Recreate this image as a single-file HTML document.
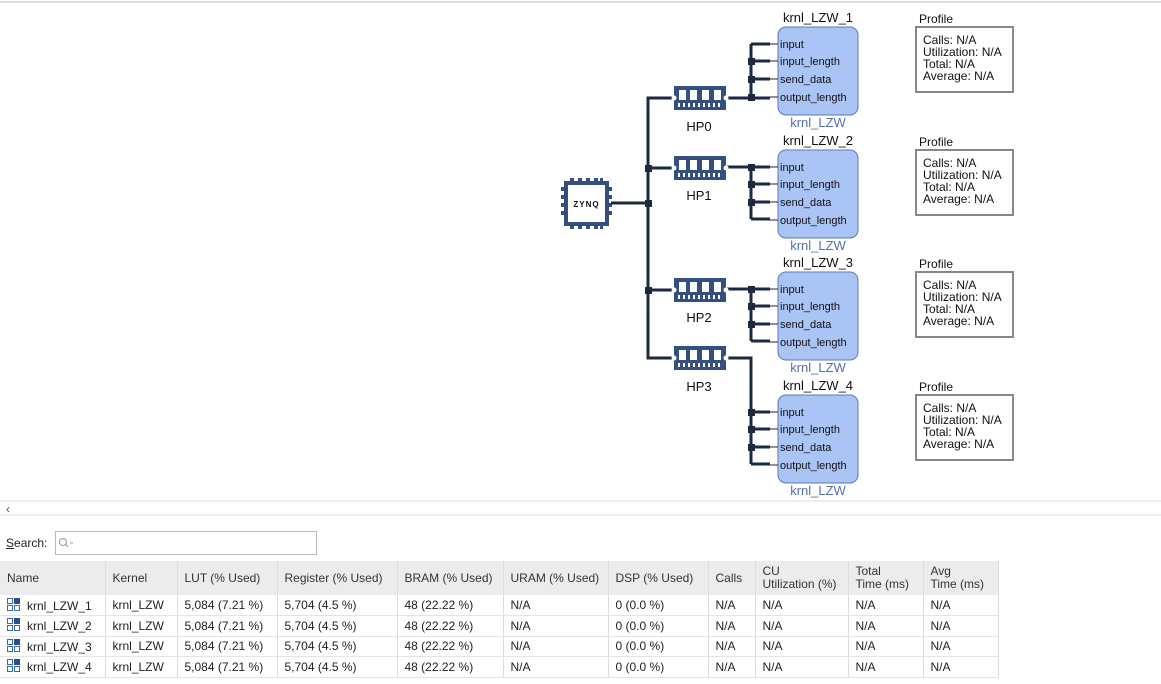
<!DOCTYPE html>
<html><head><meta charset="utf-8"><style>
body{margin:0;width:1161px;height:684px;background:#fff;font-family:"Liberation Sans",sans-serif;overflow:hidden;position:relative}
svg{position:absolute;left:0;top:0}
.t{position:absolute;font-size:12px;color:#222}
table{position:absolute;left:0;top:561px;border-collapse:collapse;font-size:12px;color:#222;table-layout:fixed;width:998px}
td,th{box-sizing:border-box;border-right:1px solid #ddd;padding:0 0 0 7px;text-align:left;font-weight:normal;white-space:nowrap;overflow:hidden}
th{background:#ececec;height:34px;line-height:13px;color:#333}
td{height:20.5px;border-bottom:1px solid #e4e4e4}
.ic{display:inline-block;vertical-align:-2px;margin-right:6px}
</style></head><body>
<svg width="1161" height="684" font-family="Liberation Sans, sans-serif">
<line x1="0" y1="2" x2="1161" y2="2" stroke="#ddd" stroke-width="2"/>
<defs>
<g id="mem">
<rect x="0" y="0" width="52" height="24" fill="#34507e"/>
<rect x="5" y="4" width="7" height="10" fill="#fff"/><rect x="16" y="4" width="7" height="10" fill="#fff"/><rect x="28" y="4" width="7" height="10" fill="#fff"/><rect x="40" y="4" width="7" height="10" fill="#fff"/>
<g fill="#fff"><rect x="4" y="17" width="2" height="4"/><rect x="9" y="17" width="2" height="4"/><rect x="14" y="17" width="2" height="4"/><rect x="19" y="17" width="2" height="4"/><rect x="24" y="17" width="2" height="4"/><rect x="29" y="17" width="2" height="4"/><rect x="34" y="17" width="2" height="4"/><rect x="39" y="17" width="2" height="4"/><rect x="44" y="17" width="2" height="4"/></g>
<circle cx="0" cy="12" r="2.5" fill="#fff"/><circle cx="52" cy="12" r="2.5" fill="#fff"/>
</g>
<g id="kb">
<rect x="0" y="0" width="80" height="88" rx="8" fill="#a9c4f5" stroke="#5a7ab5"/>
<g font-size="11" fill="#111"><text x="2" y="21">input</text><text x="2" y="38">input_length</text><text x="2" y="56">send_data</text><text x="2" y="74">output_length</text></g>
<g stroke="#1b2a40" stroke-width="1"><line x1="-8" y1="17" x2="0" y2="17"/><line x1="-8" y1="34" x2="0" y2="34"/><line x1="-8" y1="52" x2="0" y2="52"/><line x1="-8" y1="70" x2="0" y2="70"/></g>
</g>
<g id="prof">
<text x="3" y="-4" font-size="12" fill="#111">Profile</text>
<rect x="0" y="0" width="97" height="65" fill="#fff" stroke="#888" stroke-width="2"/>
<g font-size="12" fill="#111"><text x="7" y="17">Calls: N/A</text><text x="7" y="29">Utilization: N/A</text><text x="7" y="41">Total: N/A</text><text x="7" y="53">Average: N/A</text></g>
</g>
</defs>
<g fill="#34507e">
<rect x="566" y="183" width="41" height="41" fill="#fff" stroke="#34507e" stroke-width="4"/>
<rect x="570" y="178" width="4" height="5"/><rect x="578" y="178" width="4" height="5"/><rect x="586" y="178" width="4" height="5"/><rect x="594" y="178" width="4" height="5"/><rect x="600" y="178" width="3" height="5"/>
<rect x="570" y="224" width="4" height="5"/><rect x="578" y="224" width="4" height="5"/><rect x="586" y="224" width="4" height="5"/><rect x="594" y="224" width="4" height="5"/><rect x="600" y="224" width="3" height="5"/>
<rect x="561" y="187" width="5" height="4"/><rect x="561" y="195" width="5" height="4"/><rect x="561" y="203" width="5" height="4"/><rect x="561" y="211" width="5" height="4"/>
<rect x="607" y="187" width="5" height="4"/><rect x="607" y="195" width="5" height="4"/><rect x="607" y="203" width="5" height="4"/><rect x="607" y="211" width="5" height="4"/>
</g>
<text x="586.5" y="207" font-size="8" font-weight="bold" text-anchor="middle" fill="#111" letter-spacing="1">ZYNQ</text>
<g stroke="#1b2a40" stroke-width="3" fill="none">
<line x1="611" y1="203" x2="648" y2="203"/>
<polyline points="675,98 648,98 648,358 675,358"/>
<line x1="648" y1="168" x2="675" y2="168"/>
<line x1="648" y1="290" x2="675" y2="290"/>
<line x1="726" y1="98" x2="770" y2="98"/><line x1="751" y1="44" x2="751" y2="98"/>
<line x1="751" y1="44" x2="770" y2="44"/><line x1="751" y1="61" x2="770" y2="61"/><line x1="751" y1="79" x2="770" y2="79"/>
<line x1="726" y1="167" x2="770" y2="167"/><line x1="751" y1="167" x2="751" y2="219"/>
<line x1="751" y1="184" x2="770" y2="184"/><line x1="751" y1="202" x2="770" y2="202"/><line x1="751" y1="219" x2="770" y2="219"/>
<line x1="726" y1="289" x2="770" y2="289"/><line x1="751" y1="289" x2="751" y2="341"/>
<line x1="751" y1="306" x2="770" y2="306"/><line x1="751" y1="324" x2="770" y2="324"/><line x1="751" y1="341" x2="770" y2="341"/>
<polyline points="726,358 751,358 751,464"/>
<line x1="751" y1="412" x2="770" y2="412"/><line x1="751" y1="429" x2="770" y2="429"/><line x1="751" y1="447" x2="770" y2="447"/><line x1="751" y1="464" x2="770" y2="464"/>
</g>
<g fill="#1b2a40">
<rect x="645" y="165" width="7" height="7"/><rect x="645" y="200" width="7" height="7"/><rect x="645" y="287" width="7" height="7"/>
<rect x="748" y="58" width="7" height="7"/><rect x="748" y="76" width="7" height="7"/><rect x="748" y="94" width="7" height="7"/>
<rect x="748" y="164" width="7" height="7"/><rect x="748" y="181" width="7" height="7"/><rect x="748" y="199" width="7" height="7"/>
<rect x="748" y="286" width="7" height="7"/><rect x="748" y="303" width="7" height="7"/><rect x="748" y="321" width="7" height="7"/>
<rect x="748" y="409" width="7" height="7"/><rect x="748" y="426" width="7" height="7"/><rect x="748" y="444" width="7" height="7"/>
</g>
<use href="#mem" x="674" y="86"/><use href="#mem" x="674" y="156"/><use href="#mem" x="674" y="278"/><use href="#mem" x="674" y="346"/>
<g font-size="13" fill="#111" text-anchor="middle"><text x="699" y="131">HP0</text><text x="699" y="200">HP1</text><text x="699" y="322">HP2</text><text x="699" y="391">HP3</text></g>
<use href="#kb" x="778" y="27"/><use href="#kb" x="778" y="150"/><use href="#kb" x="778" y="272"/><use href="#kb" x="778" y="395"/>
<g font-size="13" fill="#111" text-anchor="middle"><text x="818" y="22">krnl_LZW_1</text><text x="818" y="145">krnl_LZW_2</text><text x="818" y="267">krnl_LZW_3</text><text x="818" y="390">krnl_LZW_4</text></g>
<g font-size="13" fill="#5470a8" text-anchor="middle"><text x="818" y="127">krnl_LZW</text><text x="818" y="250">krnl_LZW</text><text x="818" y="372">krnl_LZW</text><text x="818" y="495">krnl_LZW</text></g>
<use href="#prof" x="916" y="27"/><use href="#prof" x="916" y="150"/><use href="#prof" x="916" y="272"/><use href="#prof" x="916" y="395"/>
<line x1="0" y1="501" x2="1161" y2="501" stroke="#ddd"/>
<line x1="0" y1="515" x2="1161" y2="515" stroke="#ddd"/>
<text x="6" y="513" font-size="12" fill="#555">‹</text>
<rect x="55.5" y="531.5" width="261" height="23" fill="#fff" stroke="#bbb"/>
<circle cx="63" cy="542" r="3.5" fill="none" stroke="#999"/><line x1="65.5" y1="544.5" x2="68" y2="547" stroke="#999"/><line x1="70" y1="543" x2="73" y2="543" stroke="#999"/>
</svg>
<div class="t" style="left:6px;top:536px"><u>S</u>earch:</div>
<table>
<colgroup><col style="width:105px"><col style="width:72px"><col style="width:100px"><col style="width:120px"><col style="width:106px"><col style="width:105px"><col style="width:100px"><col style="width:47px"><col style="width:93px"><col style="width:75px"><col style="width:75px"></colgroup>
<tr><th>Name</th><th>Kernel</th><th>LUT (% Used)</th><th>Register (% Used)</th><th>BRAM (% Used)</th><th>URAM (% Used)</th><th>DSP (% Used)</th><th>Calls</th><th>CU<br>Utilization (%)</th><th>Total<br>Time (ms)</th><th>Avg<br>Time (ms)</th></tr>
<tr><td><svg class="ic" width="14" height="14" style="position:static"><rect x="0.5" y="0.5" width="5" height="5" fill="none" stroke="#3a6ab0"/><rect x="7" y="0" width="6" height="6" fill="#2a4f8a"/><rect x="0.5" y="7.5" width="5" height="5" fill="none" stroke="#3a6ab0"/><rect x="7.5" y="7.5" width="5" height="5" fill="none" stroke="#3a6ab0"/></svg>krnl_LZW_1</td><td>krnl_LZW</td><td>5,084 (7.21 %)</td><td>5,704 (4.5 %)</td><td>48 (22.22 %)</td><td>N/A</td><td>0 (0.0 %)</td><td>N/A</td><td>N/A</td><td>N/A</td><td>N/A</td></tr>
<tr><td><svg class="ic" width="14" height="14" style="position:static"><rect x="0.5" y="0.5" width="5" height="5" fill="none" stroke="#3a6ab0"/><rect x="7" y="0" width="6" height="6" fill="#2a4f8a"/><rect x="0.5" y="7.5" width="5" height="5" fill="none" stroke="#3a6ab0"/><rect x="7.5" y="7.5" width="5" height="5" fill="none" stroke="#3a6ab0"/></svg>krnl_LZW_2</td><td>krnl_LZW</td><td>5,084 (7.21 %)</td><td>5,704 (4.5 %)</td><td>48 (22.22 %)</td><td>N/A</td><td>0 (0.0 %)</td><td>N/A</td><td>N/A</td><td>N/A</td><td>N/A</td></tr>
<tr><td><svg class="ic" width="14" height="14" style="position:static"><rect x="0.5" y="0.5" width="5" height="5" fill="none" stroke="#3a6ab0"/><rect x="7" y="0" width="6" height="6" fill="#2a4f8a"/><rect x="0.5" y="7.5" width="5" height="5" fill="none" stroke="#3a6ab0"/><rect x="7.5" y="7.5" width="5" height="5" fill="none" stroke="#3a6ab0"/></svg>krnl_LZW_3</td><td>krnl_LZW</td><td>5,084 (7.21 %)</td><td>5,704 (4.5 %)</td><td>48 (22.22 %)</td><td>N/A</td><td>0 (0.0 %)</td><td>N/A</td><td>N/A</td><td>N/A</td><td>N/A</td></tr>
<tr><td><svg class="ic" width="14" height="14" style="position:static"><rect x="0.5" y="0.5" width="5" height="5" fill="none" stroke="#3a6ab0"/><rect x="7" y="0" width="6" height="6" fill="#2a4f8a"/><rect x="0.5" y="7.5" width="5" height="5" fill="none" stroke="#3a6ab0"/><rect x="7.5" y="7.5" width="5" height="5" fill="none" stroke="#3a6ab0"/></svg>krnl_LZW_4</td><td>krnl_LZW</td><td>5,084 (7.21 %)</td><td>5,704 (4.5 %)</td><td>48 (22.22 %)</td><td>N/A</td><td>0 (0.0 %)</td><td>N/A</td><td>N/A</td><td>N/A</td><td>N/A</td></tr>
</table>
</body></html>
